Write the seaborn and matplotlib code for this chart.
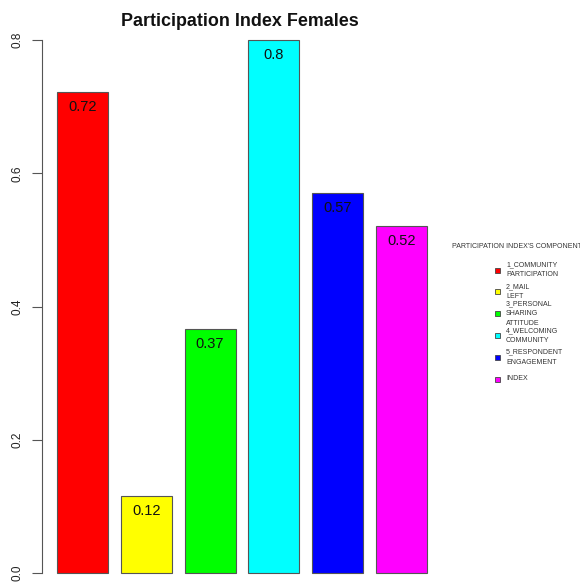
import matplotlib
matplotlib.use("Agg")
import matplotlib.pyplot as plt
import seaborn as sns
from matplotlib.patches import Rectangle

# Component scores
components = ["1_COMMUNITY\nPARTICIPATION", "2_MAIL\nLEFT", "3_PERSONAL\nSHARING\nATTITUDE",
              "4_WELCOMING\nCOMMUNITY", "5_RESPONDENT\nENGAGEMENT", "INDEX"]
scores = [0.722, 0.116, 0.366, 0.80, 0.571, 0.521]
colors = ["#FF0000", "#FFFF00", "#00FF00", "#00FFFF", "#0000FF", "#FF00FF"]
y_ticks = [0.0, 0.2, 0.4, 0.6, 0.8]

sns.set_style("white")
plt.rcParams["font.family"] = ["Liberation Sans", "DejaVu Sans"]

W, H = 580, 586
fig = plt.figure(figsize=(W / 100, H / 100), dpi=100)

# axes placed in pixel units
ax_left, ax_right, ax_top, ax_bottom = 42, 445, 30, 586
ax = fig.add_axes([ax_left / W, 1 - ax_bottom / H, (ax_right - ax_left) / W, (ax_bottom - ax_top) / H])

sns.barplot(x=components, y=scores, hue=components, palette=colors, legend=False,
            width=0.8, saturation=1, edgecolor="#555555", linewidth=0.8, ax=ax)

# y mapping: 0 at px 573, 0.8 at px 40
per_px = 0.8 / 533
ax.set_ylim(-(ax_bottom - 573) * per_px, 0.8 + (40 - ax_top) * per_px)
spacing = 63.8
c0 = 82.5
ax.set_xlim((ax_left - c0) / spacing, (ax_right - c0) / spacing)

for i, v in enumerate(scores):
    ax.annotate(f"{round(v, 2):g}", xy=(i, v), xytext=(0, -10.8), textcoords="offset points",
                ha="center", va="center", fontsize=10.5, color="#111111")

ax.set_xticks([])
ax.set_yticks(y_ticks)
ax.set_yticklabels([f"{t:.1f}" for t in y_ticks], rotation=90, va="center", fontsize=8.5, color="#222222")
ax.tick_params(axis="y", direction="out", length=7, width=0.8, color="#555555", pad=6.5, left=True)
for s in ["top", "right", "bottom"]:
    ax.spines[s].set_visible(False)
ax.spines["left"].set_bounds(0, 0.8)
ax.spines["left"].set_color("#555555")
ax.spines["left"].set_linewidth(0.8)
ax.set_xlabel("")
ax.set_ylabel("")

fig.text(240 / W, 1 - 22 / H, "Participation Index Females", ha="center", va="center",
         fontsize=12.9, fontweight="bold", color="#111111")

# legend
fig.text(452 / W, 1 - 246 / H, "PARTICIPATION INDEX'S COMPONENTS", ha="left", va="center",
         fontsize=5, color="#333333")
for i, (lab, col) in enumerate(zip(components, colors)):
    yc = 270 + i * 21.8
    sq = 5
    fig.patches.append(Rectangle((495 / W, 1 - (yc + sq / 2) / H), sq / W, sq / H,
                                 transform=fig.transFigure, facecolor=col,
                                 edgecolor="#444444", linewidth=0.6))
    fig.text(506 / W, 1 - yc / H, lab, ha="left", va="center", fontsize=5,
             color="#333333", linespacing=1.6)

fig.savefig("out.png", dpi=100)
